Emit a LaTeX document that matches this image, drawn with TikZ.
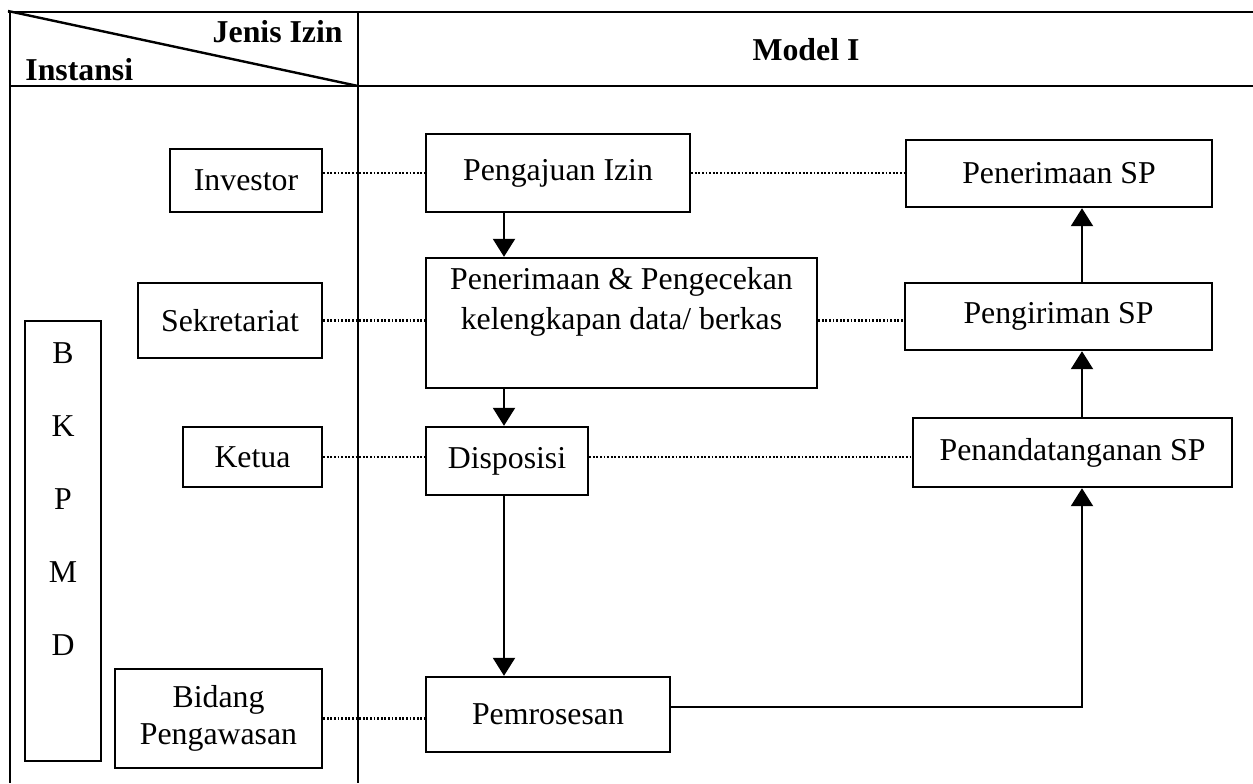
\documentclass[tikz,border=0pt]{standalone}
\usepackage{fontspec}
\setmainfont{Liberation Serif}
\usetikzlibrary{arrows.meta}
\newcommand\diagfont{\fontsize{15.9}{20}\selectfont}
\begin{document}
\begin{tikzpicture}[x=0.5pt,y=-0.5pt,
  box/.style={draw, line width=1.2pt, inner sep=0pt, font=\diagfont},
  txt/.style={inner sep=0pt, font=\diagfont},
  head/.style={inner sep=0pt, font=\diagfont\bfseries},
  tbl/.style={line width=0.9pt},
  dotline/.style={line width=1.3pt, dash pattern=on 0.9pt off 0.9pt},
  arr/.style={line width=1.1pt, -{Triangle[width=11pt,length=9pt]}}]
\useasboundingbox (0,0) rectangle (1253,783);
% table frame
\draw[tbl] (8,12) -- (1253,12);
\draw[tbl] (10,12) -- (10,783);
\draw[tbl] (10,86) -- (1253,86);
\draw[tbl] (358,12) -- (358,783);
\draw[line width=1.2pt] (8,11) -- (358,86);
\node[head, anchor=east] (jenis) at (343,32) {Jenis Izin};
\node[head, anchor=west] (instansi) at (25,70) {Instansi};
\node[head] (model) at (806,50) {Model I};
% left column
\node[box, minimum width=38pt, minimum height=220pt] (bkpmd) at (63,541) {};
\node[inner sep=0pt, align=center, font=\fontsize{15.9}{36.5}\selectfont] (letters) at (63,499) {B\\K\\P\\M\\D};
\node[box, minimum width=76pt, minimum height=31.5pt] (investor) at (246,180.5) {Investor};
\node[box, minimum width=92pt, minimum height=37.5pt] (sekretariat) at (230,320.5) {Sekretariat};
\node[box, minimum width=69.5pt, minimum height=30pt] (ketua) at (252.5,457) {Ketua};
\node[box, minimum width=103.5pt, minimum height=49.5pt, align=center, font=\fontsize{15.9}{18.5}\selectfont] (bidang) at (218.5,718.5) {Bidang\\Pengawasan};
% middle column
\node[box, minimum width=132pt, minimum height=39pt] (pengajuan) at (558,173) {Pengajuan Izin};
\node[box, minimum width=195.5pt, minimum height=65pt] (penerimaan) at (621.5,323) {};
\node[txt, align=center] (pentext) at (621.5,302) {Penerimaan \& Pengecekan\\kelengkapan data/ berkas};
\node[box, minimum width=81pt, minimum height=34pt] (disposisi) at (507,461) {Disposisi};
\node[box, minimum width=122pt, minimum height=37.5pt] (pemrosesan) at (548,714.5) {Pemrosesan};
% right column
\node[box, minimum width=153pt, minimum height=33.5pt] (penerimaansp) at (1059,173.5) {Penerimaan SP};
\node[box, minimum width=153.5pt, minimum height=33.5pt] (pengiriman) at (1058.5,316.5) {Pengiriman SP};
\node[box, minimum width=159.5pt, minimum height=34.5pt] (penandatanganan) at (1072.5,452.5) {Penandatanganan SP};
% helper coordinates
\coordinate (colA) at (504,0);
\coordinate (colB) at (1082,707);
% dotted links
\draw[dotline] (pengajuan.west -| investor.east) -- (pengajuan.west);
\draw[dotline] (pengajuan.east) -- (pengajuan.east -| penerimaansp.west);
\draw[dotline] (sekretariat.east) -- (sekretariat.east -| penerimaan.west);
\draw[dotline] (sekretariat.east -| penerimaan.east) -- (sekretariat.east -| pengiriman.west);
\draw[dotline] (ketua.east) -- (ketua.east -| disposisi.west);
\draw[dotline] (ketua.east -| disposisi.east) -- (ketua.east -| penandatanganan.west);
\draw[dotline] (bidang.east) -- (bidang.east -| pemrosesan.west);
% arrows
\draw[arr] (pengajuan.south -| colA) -- (penerimaan.north -| colA);
\draw[arr] (penerimaan.south -| colA) -- (disposisi.north -| colA);
\draw[arr] (disposisi.south -| colA) -- (pemrosesan.north -| colA);
\draw[arr] (pemrosesan.east |- colB) -- (colB) -- (penandatanganan.south -| colB);
\draw[arr] (penandatanganan.north -| colB) -- (pengiriman.south -| colB);
\draw[arr] (pengiriman.north -| colB) -- (penerimaansp.south -| colB);
\end{tikzpicture}
\end{document}
